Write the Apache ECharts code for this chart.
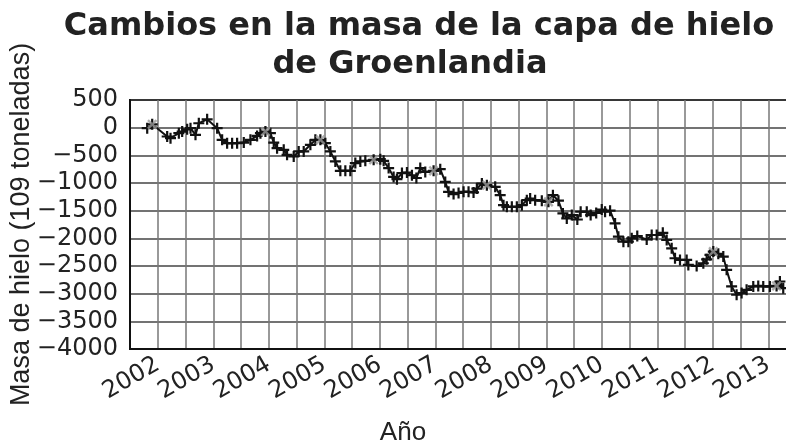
<!DOCTYPE html>
<html>
<head>
<meta charset="utf-8">
<script src="https://cdn.jsdelivr.net/npm/echarts@6/dist/echarts.min.js"></script>
<style>
html,body{margin:0;padding:0;background:#fff;}
#chart{width:786px;height:443px;}
</style>
</head>
<body>
<div id="chart"></div>
<script>
const titleLine1 = 'Cambios en la masa de la capa de hielo';
const titleLine2 = 'de Groenlandia';
const yAxisTitle = 'Masa de hielo (109 toneladas)';
const xAxisTitle = 'Año';

const years = [2001.81, 2001.90, 2002.17, 2002.23, 2002.38, 2002.44, 2002.53, 2002.59, 2002.68, 2002.74,
  2002.89, 2003.07, 2003.16, 2003.25, 2003.34, 2003.43, 2003.55, 2003.67, 2003.79, 2003.85,
  2003.94, 2004.03, 2004.09, 2004.15, 2004.27, 2004.33, 2004.45, 2004.54, 2004.63, 2004.75,
  2004.84, 2004.93, 2005.02, 2005.11, 2005.20, 2005.29, 2005.38, 2005.47, 2005.56, 2005.65,
  2005.74, 2005.89, 2006.01, 2006.07, 2006.16, 2006.25, 2006.31, 2006.40, 2006.49, 2006.58,
  2006.66, 2006.73, 2006.82, 2006.97, 2007.09, 2007.18, 2007.24, 2007.33, 2007.42, 2007.51,
  2007.60, 2007.69, 2007.75, 2007.84, 2007.93, 2008.08, 2008.17, 2008.23, 2008.29, 2008.38,
  2008.47, 2008.56, 2008.65, 2008.71, 2008.80, 2008.92, 2009.04, 2009.12, 2009.22, 2009.30,
  2009.37, 2009.46, 2009.56, 2009.62, 2009.73, 2009.80, 2009.90, 2010.00, 2010.06, 2010.15,
  2010.24, 2010.30, 2010.39, 2010.48, 2010.54, 2010.64, 2010.81, 2010.90, 2010.99, 2011.10,
  2011.17, 2011.26, 2011.32, 2011.41, 2011.53, 2011.56, 2011.71, 2011.83, 2011.89, 2011.95,
  2012.01, 2012.10, 2012.19, 2012.25, 2012.34, 2012.43, 2012.52, 2012.61, 2012.73, 2012.82,
  2012.91, 2013.03, 2013.15, 2013.21, 2013.27];

const mass = [-10, 60, -160, -190, -100, -70, -30, -10, -130, 80,
  150, -10, -220, -280, -280, -280, -270, -220, -150, -100,
  -70, -100, -270, -370, -400, -490, -520, -430, -430, -310,
  -220, -220, -280, -430, -610, -780, -780, -780, -640, -610,
  -600, -580, -570, -600, -730, -890, -930, -820, -810, -860,
  -910, -730, -800, -780, -750, -980, -1160, -1200, -1180, -1160,
  -1160, -1170, -1100, -1010, -1040, -1070, -1220, -1400, -1430, -1430,
  -1430, -1400, -1310, -1280, -1310, -1320, -1340, -1220, -1320, -1550,
  -1640, -1580, -1660, -1520, -1520, -1580, -1540, -1480, -1520, -1500,
  -1730, -1970, -2060, -2060, -2000, -1960, -2020, -1940, -1940, -1900,
  -2030, -2180, -2360, -2390, -2390, -2480, -2500, -2450, -2380, -2300,
  -2240, -2280, -2330, -2570, -2870, -3020, -2990, -2930, -2870, -2860,
  -2870, -2870, -2860, -2780, -2900];

const grayYears = [2001.90, 2003.94, 2004.93, 2005.89, 2006.97, 2007.93, 2009.04, 2012.01, 2013.15];
const grayMass = [60, -70, -220, -580, -780, -1040, -1340, -2240, -2860];

const yTicks = { min: -4000, max: 500, step: 500 };
const xTicks = { min: 2001.5, max: 2013.5, step: 0.5 };

const plusPath = 'path://M4,0h2v4h4v2h-4v4h-2v-4h-4v-2h4z';

const lineData = years.map((y, i) => [y, mass[i]]);
const grayData = grayYears.map((y, i) => [y, grayMass[i]]);

const chart = echarts.init(document.getElementById('chart'), null, {renderer: 'canvas'});
chart.setOption({
  animation: false,
  backgroundColor: '#ffffff',
  title: [
    { text: titleLine1, left: 414, top: 6, textAlign: 'center',
      textStyle: { fontFamily: 'DejaVu Sans', fontWeight: 'bold', fontSize: 32, color: '#222' } },
    { text: titleLine2, left: 405, top: 44, textAlign: 'center',
      textStyle: { fontFamily: 'DejaVu Sans', fontWeight: 'bold', fontSize: 32, color: '#222' } }
  ],
  grid: { left: 130, top: 100, right: -10, bottom: 94, containLabel: false,
    outerBoundsMode: 'none',
    show: true, borderColor: '#111', borderWidth: 2 },
  xAxis: {
    type: 'value', min: xTicks.min, max: xTicks.max, interval: xTicks.step,
    name: xAxisTitle, nameLocation: 'middle', nameGap: 71,
    nameTextStyle: { fontFamily: 'Liberation Sans', fontSize: 26, color: '#222', padding: [0, 120, 0, 0] },
    axisLine: { show: true, onZero: false, lineStyle: { color: '#111', width: 2 } },
    axisTick: { show: false },
    splitLine: { show: true, lineStyle: { color: '#777', width: 1.5 } },
    axisLabel: {
      rotate: 30, margin: 14, fontFamily: 'DejaVu Sans', fontSize: 24, color: '#222',
      showMaxLabel: false,
      formatter: v => Math.abs(v - Math.round(v)) < 1e-6 ? String(Math.round(v)) : ''
    }
  },
  yAxis: {
    type: 'value', min: yTicks.min, max: yTicks.max, interval: yTicks.step,
    name: yAxisTitle, nameLocation: 'middle', nameGap: 95, nameRotate: 90,
    nameMoveOverlap: false,
    nameTextStyle: { fontFamily: 'Liberation Sans', fontSize: 27, color: '#222' },
    axisLine: { show: true, lineStyle: { color: '#111', width: 2 } },
    axisTick: { show: false },
    splitLine: { show: true, lineStyle: { color: '#444', width: 1.5 } },
    axisLabel: {
      margin: 12, fontFamily: 'DejaVu Sans', fontSize: 24, color: '#222',
      formatter: v => v < 0 ? '\u2212' + Math.abs(v) : String(v)
    }
  },
  series: [
    { type: 'line', data: lineData, symbol: plusPath, symbolSize: 11,
      lineStyle: { color: '#111', width: 2 }, itemStyle: { color: '#111' }, z: 3 },
    { type: 'scatter', data: grayData, symbol: plusPath, symbolSize: 12, symbolRotate: 45,
      itemStyle: { color: '#999' }, z: 4 }
  ]
});
</script>
</body>
</html>
